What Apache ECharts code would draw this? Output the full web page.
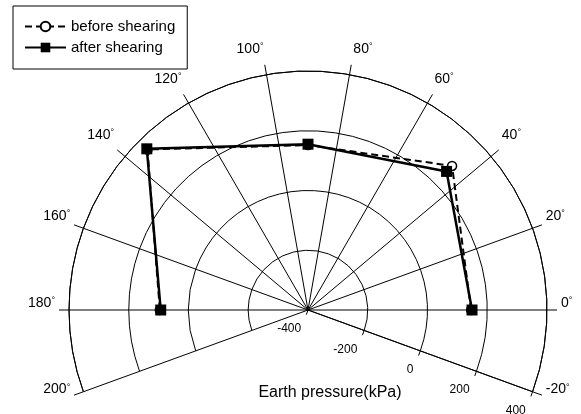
<!DOCTYPE html>
<html><head><meta charset="utf-8">
<script src="https://cdn.jsdelivr.net/npm/echarts@6/dist/echarts.min.js"></script>
<style>html,body{margin:0;padding:0;background:#fff}#c{width:581px;height:414px}</style>
</head><body><div id="c"></div>
<script>
// ---- data ----
const angles = [0, 45, 90, 135, 180];
const beforeShearing = [146, 282, 152, 360, 96];
const afterShearing = [149, 256, 155, 363, 93];
const seriesNames = ['before shearing', 'after shearing'];
const radiusMin = -400, radiusMax = 400, radiusStep = 200;
const angleMin = -20, angleMax = 200, angleStep = 20;
const axisTitle = 'Earth pressure(kPa)';

const FONT = '"Liberation Sans", Arial, Helvetica, sans-serif';
const toPairs = vals => vals.map((v, i) => [v, angles[i]]);

// label placement styles (per angle label)
const numStyleFor = {40: 'u', 60: 'u', 80: 'r', 100: 'l', 120: 'u', 140: 'u'};
const degStyleFor = {100: 'dl'};
const base = {fontSize: 14, color: '#000', fontFamily: FONT};
const deg = {fontSize: 9, verticalAlign: 'top', color: '#000', fontFamily: FONT};

const chart = echarts.init(document.getElementById('c'), null, {renderer: 'canvas'});
chart.setOption({
  animation: false,
  backgroundColor: '#fff',
  textStyle: {fontFamily: FONT},
  title: {
    text: axisTitle, left: 330, top: 385, textAlign: 'center', padding: 0,
    textStyle: {fontSize: 16, fontWeight: 'normal', color: '#000', fontFamily: FONT}
  },
  legend: {
    orient: 'vertical', left: 13, top: 6, padding: [13, 12, 14, 11],
    itemGap: 6, itemWidth: 41, itemHeight: 12,
    borderColor: '#000', borderWidth: 1, borderRadius: 0, backgroundColor: '#fff',
    textStyle: {fontSize: 15, color: '#000', fontFamily: FONT},
    data: seriesNames
  },
  polar: {center: [308, 310], radius: 239},
  angleAxis: {
    type: 'value', min: angleMin, max: angleMax, interval: angleStep,
    startAngle: angleMin, endAngle: angleMax, clockwise: false,
    axisLine: {show: true, lineStyle: {color: '#000', width: 1}},
    axisTick: {show: true, length: 10, inside: false, lineStyle: {color: '#000', width: 1}},
    axisLabel: {
      margin: 14, color: '#000', fontSize: 14, fontFamily: FONT,
      padding: [-14, 0, 0, 0],
      formatter: v => {
        const n = numStyleFor[v] || 'n';
        const d = degStyleFor[v] || 'd';
        return '{' + n + '|' + v + '}{' + d + '|°}';
      },
      rich: {
        n: Object.assign({}, base),
        u: Object.assign({padding: [0, 0, 5, 0]}, base),
        r: Object.assign({padding: [0, 0, 5, 22]}, base),
        l: Object.assign({padding: [0, 0, 5, 0]}, base),
        d: Object.assign({}, deg),
        dl: Object.assign({padding: [0, 28, 0, 0]}, deg)
      }
    },
    splitLine: {show: true, lineStyle: {color: '#000', width: 1}}
  },
  radiusAxis: {
    type: 'value', min: radiusMin, max: radiusMax, interval: radiusStep,
    axisLine: {show: true, lineStyle: {color: '#000', width: 1}},
    axisTick: {show: true, length: -5, lineStyle: {color: '#000'}},
    axisLabel: {margin: -20, align: 'right', verticalAlign: 'middle', fontSize: 12, color: '#000', fontFamily: FONT},
    splitLine: {show: true, lineStyle: {color: '#000', width: 1}}
  },
  series: [
    {
      name: seriesNames[0], type: 'line', coordinateSystem: 'polar',
      data: toPairs(beforeShearing),
      symbol: 'circle', symbolSize: 9,
      lineStyle: {color: '#000', width: 2, type: [7, 4]},
      itemStyle: {color: '#fff', borderColor: '#000', borderWidth: 1.5},
      z: 3
    },
    {
      name: seriesNames[1], type: 'line', coordinateSystem: 'polar',
      data: toPairs(afterShearing),
      symbol: 'rect', symbolSize: 11,
      lineStyle: {color: '#000', width: 2.5},
      itemStyle: {color: '#000'},
      z: 4
    }
  ]
});
</script></body></html>
